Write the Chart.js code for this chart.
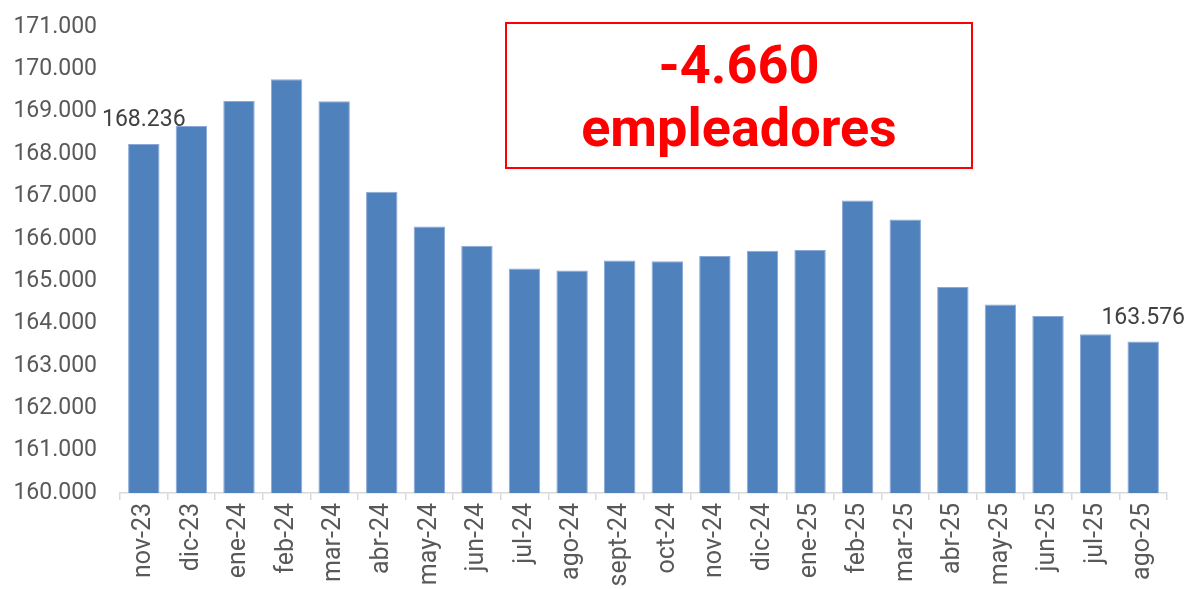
<!DOCTYPE html>
<html>
<head>
<meta charset="utf-8">
<script src="https://cdn.jsdelivr.net/npm/chart.js@4.4.1/dist/chart.umd.min.js"></script>
<style>
  html, body { margin: 0; padding: 0; background: #fff; }
  #wrap { width: 1189px; height: 589px; position: relative; }
</style>
</head>
<body>
<div id="wrap"><canvas id="empleadores_chart"></canvas></div>
<script>
const meses = ['nov-23', 'dic-23', 'ene-24', 'feb-24', 'mar-24', 'abr-24', 'may-24', 'jun-24',
    'jul-24', 'ago-24', 'sept-24', 'oct-24', 'nov-24', 'dic-24', 'ene-25', 'feb-25',
    'mar-25', 'abr-25', 'may-25', 'jun-25', 'jul-25', 'ago-25'];
const empleadores = [168236, 168661, 169251, 169764, 169245, 167109, 166292, 165834,
    165300, 165253, 165489, 165472, 165597, 165716, 165739, 166906,
    166457, 164865, 164450, 164180, 163748, 163576];
const etiquetaIndices = [0, 21]; // bars with a value on top
const recuadroTexto = ['-4.660', 'empleadores'];

const fmt = v => {
    const s = Math.round(v).toString();
    return s.slice(0, s.length - 3) + '.' + s.slice(-3);
};

// value labels over first and last bar + the red box
const extras = {
    id: 'extras',
    afterDatasetsDraw(chart) {
        const ctx = chart.ctx;
        const meta = chart.getDatasetMeta(0);
        ctx.save();
        ctx.fillStyle = '#404040';
        ctx.font = '23px Roboto';
        ctx.textAlign = 'center';
        ctx.textBaseline = 'alphabetic';
        etiquetaIndices.forEach(i => {
            const bar = meta.data[i];
            ctx.fillText(fmt(empleadores[i]), bar.x, bar.y - 18);
        });

        // annotation box
        ctx.strokeStyle = '#ff0000';
        ctx.lineWidth = 2;
        ctx.strokeRect(506, 23, 466, 145);
        ctx.fillStyle = '#ff0000';
        ctx.font = 'bold 54px Roboto';
        ctx.fillText(recuadroTexto[0], 739, 83);
        ctx.fillText(recuadroTexto[1], 739, 146);
        ctx.restore();
    }
};

const ctx = document.getElementById('empleadores_chart').getContext('2d');

new Chart(ctx, {
    type: 'bar',
    data: {
        labels: meses,
        datasets: [{
            label: 'Empleadores',
            data: empleadores,
            backgroundColor: '#4f81bd',
            borderColor: '#8aa9d6',
            borderWidth: 1,
            barPercentage: 0.66,
            categoryPercentage: 1
        }]
    },
    options: {
        responsive: true,
        maintainAspectRatio: false,
        animation: false,
        layout: {
            padding: { top: 27, right: 22, bottom: 0, left: 0 }
        },
        scales: {
            x: {
                grid: {
                    display: true,
                    drawOnChartArea: false,
                    drawTicks: true,
                    tickLength: 7,
                    color: '#d9d9d9',
                    lineWidth: 1.5
                },
                border: { display: true, color: '#d9d9d9', width: 1.5 },
                ticks: {
                    color: '#595959',
                    font: { family: 'Roboto', size: 25 },
                    minRotation: 90,
                    maxRotation: 90,
                    autoSkip: false,
                    padding: 3
                },
                afterFit(scale) {
                    scale.height = 96;
                    scale.paddingLeft = 0;
                    scale.paddingRight = 0;
                }
            },
            y: {
                min: 160000,
                max: 171000,
                grid: { display: false, drawTicks: false },
                border: { display: false },
                ticks: {
                    stepSize: 1000,
                    color: '#595959',
                    font: { family: 'Roboto', size: 23 },
                    padding: 23,
                    callback: v => fmt(v)
                },
                afterFit(scale) {
                    scale.width = 120;
                    scale.paddingTop = 0;
                    scale.paddingBottom = 0;
                }
            }
        },
        plugins: {
            legend: { display: false },
            tooltip: { enabled: false }
        }
    },
    plugins: [extras]
});
</script>
</body>
</html>
